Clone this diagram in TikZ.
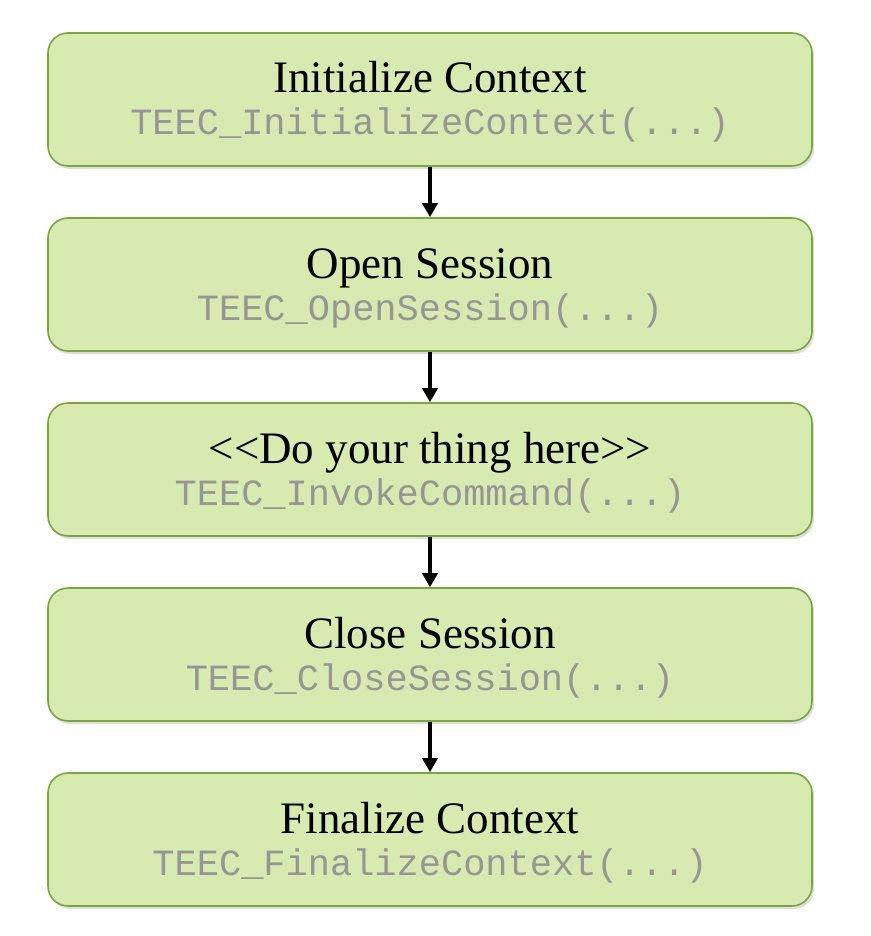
\documentclass[tikz,border=0pt]{standalone}
\usepackage{fontspec}
\setmainfont{Liberation Serif}
\newfontfamily\codefont{Liberation Mono}
\usetikzlibrary{arrows.meta, positioning, shadows}

\definecolor{boxfill}{RGB}{215,234,176}
\definecolor{boxline}{RGB}{122,166,62}
\definecolor{codegray}{RGB}{150,150,150}

\tikzset{
    stagebox/.style={rectangle, rounded corners=20pt, draw=boxline, line width=1.6pt,
        fill=boxfill, minimum width=764pt, minimum height=133pt, inner sep=0pt,
        drop shadow={opacity=0.25, shadow xshift=2pt, shadow yshift=-3pt}},
    stagetitle/.style={anchor=base, inner sep=0pt, font=\fontsize{45}{48}\selectfont},
    stagecode/.style={anchor=base, inner sep=0pt, text=codegray,
        font=\codefont\fontsize{37}{40}\selectfont},
    flow/.style={line width=3.8pt, -{Triangle[width=15pt,length=14pt]}}
}

\begin{document}
\begin{tikzpicture}[x=1pt, y=1pt, node distance=50.4pt]
\useasboundingbox (0,0) rectangle (870,-936);

% stages
\node[stagebox] (init) at (430,-99.5) {};
\node[stagebox, below=of init] (open) {};
\node[stagebox, below=of open] (invoke) {};
\node[stagebox, below=of invoke] (close) {};
\node[stagebox, below=of close] (final) {};

% labels
\node[stagetitle] (initT) at ([yshift=6.5pt]init.center) {Initialize Context};
\node[stagecode] (initC) at ([yshift=-35.5pt]init.center) {TEEC\_InitializeContext(...)};
\node[stagetitle] (openT) at ([yshift=6.5pt]open.center) {Open Session};
\node[stagecode] (openC) at ([yshift=-35.5pt]open.center) {TEEC\_OpenSession(...)};
\node[stagetitle] (invokeT) at ([yshift=6.5pt]invoke.center) {<{}<Do your thing here>{}>};
\node[stagecode] (invokeC) at ([yshift=-35.5pt]invoke.center) {TEEC\_InvokeCommand(...)};
\node[stagetitle] (closeT) at ([yshift=6.5pt]close.center) {Close Session};
\node[stagecode] (closeC) at ([yshift=-35.5pt]close.center) {TEEC\_CloseSession(...)};
\node[stagetitle] (finalT) at ([yshift=6.5pt]final.center) {Finalize Context};
\node[stagecode] (finalC) at ([yshift=-35.5pt]final.center) {TEEC\_FinalizeContext(...)};

% arrows
\draw[flow] (init) -- (open);
\draw[flow] (open) -- (invoke);
\draw[flow] (invoke) -- (close);
\draw[flow] (close) -- (final);
\end{tikzpicture}
\end{document}
